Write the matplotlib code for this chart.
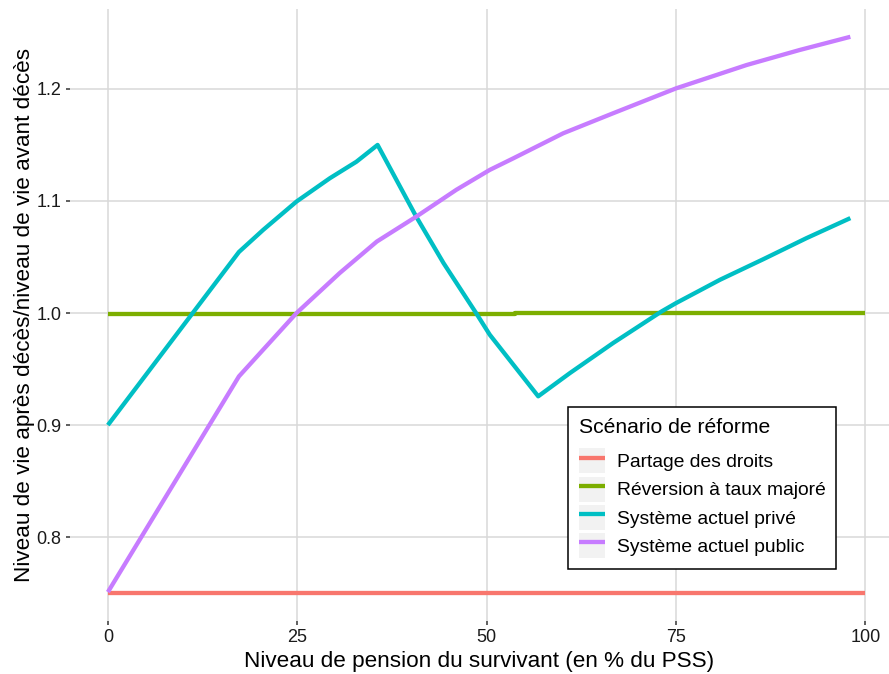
import matplotlib
matplotlib.use("Agg")
import matplotlib.pyplot as plt
from matplotlib.legend_handler import HandlerLine2D
from matplotlib.patches import Rectangle

plt.rcParams['font.family'] = ['Liberation Sans', 'DejaVu Sans']

# ---- data ----
partage_x = [0, 100]
partage_y = [0.75, 0.75]

reversion_x = [0, 2.6, 2.6, 53.8, 53.8, 100]
reversion_y = [0.9990, 0.9990, 0.9995, 0.9995, 1.0, 1.0]

prive_x = [0, 17.3, 20.5, 24.9, 29.3, 32.8, 35.6, 40.7, 44.3, 48.6, 50.4, 56.8,
           61.0, 66.7, 73.1, 75.0, 80.8, 86.5, 92.2, 98.0]
prive_y = [0.900, 1.0545, 1.0742, 1.0995, 1.1203, 1.135, 1.150, 1.086, 1.0446, 1.000, 0.9807, 0.9257,
           0.9465, 0.9733, 1.0015, 1.0089, 1.0297, 1.048, 1.0668, 1.0847]

public_x = [0, 17.3, 20.5, 24.9, 30.6, 35.5, 40.7, 46.0, 50.4, 53.5, 60.1, 66.7, 75.0, 84.3, 91.3, 98.0]
public_y = [0.751, 0.9435, 0.9673, 1.000, 1.0357, 1.0638, 1.086, 1.110, 1.1277, 1.138, 1.1604, 1.1783,
            1.2005, 1.2213, 1.2347, 1.2465]

series = [
    ("Partage des droits", partage_x, partage_y, "#F8766D"),
    ("Réversion à taux majoré", reversion_x, reversion_y, "#7CAE00"),
    ("Système actuel privé", prive_x, prive_y, "#00BFC4"),
    ("Système actuel public", public_x, public_y, "#C77CFF"),
]

xticks = [0, 25, 50, 75, 100]
yticks = [0.8, 0.9, 1.0, 1.1, 1.2]
ytick_labels = ["0.8", "0.9", "1.0", "1.1", "1.2"]

W, H = 889, 674
fig = plt.figure(figsize=(W / 100, H / 100), dpi=100)
left, right, top, bottom = 70, 889, 9, 621
ax = fig.add_axes([left / W, 1 - bottom / H, (right - left) / W, (bottom - top) / H])

for name, xs, ys, col in series:
    ax.plot(xs, ys, color=col, lw=3.1, label=name, solid_capstyle='butt', solid_joinstyle='round')

ax.set_xlim(-5, (right - 108) / 7.575)
ax.set_ylim(0.7252, 1.2713)
ax.set_xticks(xticks)
ax.set_yticks(yticks)
ax.set_yticklabels(ytick_labels)
ax.grid(True, color='#D9D9D9', lw=1.1)
ax.set_axisbelow(True)
for s in ax.spines.values():
    s.set_visible(False)
ax.tick_params(axis='both', length=3, width=1.1, color='#333333', labelsize=13, labelcolor='#1a1a1a', pad=3)

ax.set_xlabel("Niveau de pension du survivant (en % du PSS)", fontsize=16.2, labelpad=3, color='black')
ax.set_ylabel("Niveau de vie après décès/niveau de vie avant décès", fontsize=16.2, labelpad=1, color='black')


class KeyHandler(HandlerLine2D):
    def create_artists(self, legend, orig_handle, xdescent, ydescent, width, height, fontsize, trans):
        rect = Rectangle((-xdescent, -ydescent), width, height, facecolor='#F2F2F2',
                         edgecolor='none', transform=trans)
        arts = super().create_artists(legend, orig_handle, xdescent, ydescent, width, height, fontsize, trans)
        return [rect] + arts


handles, labels = ax.get_legend_handles_labels()
leg = ax.legend(handles, labels, title="Scénario de réforme", loc='upper left',
                bbox_to_anchor=(568 / W, 1 - 407 / H), bbox_transform=fig.transFigure,
                borderaxespad=0, fontsize=13.9, title_fontsize=15.2, frameon=True, fancybox=False,
                edgecolor='black', framealpha=1, handlelength=1.35, handleheight=1.62,
                handletextpad=0.62, labelspacing=0.16, borderpad=0.55,
                handler_map={plt.Line2D: KeyHandler()})
leg.get_frame().set_linewidth(1.1)
leg._legend_box.align = "left"
leg._legend_box.sep = 8.5

fig.savefig("out.png", dpi=100)
